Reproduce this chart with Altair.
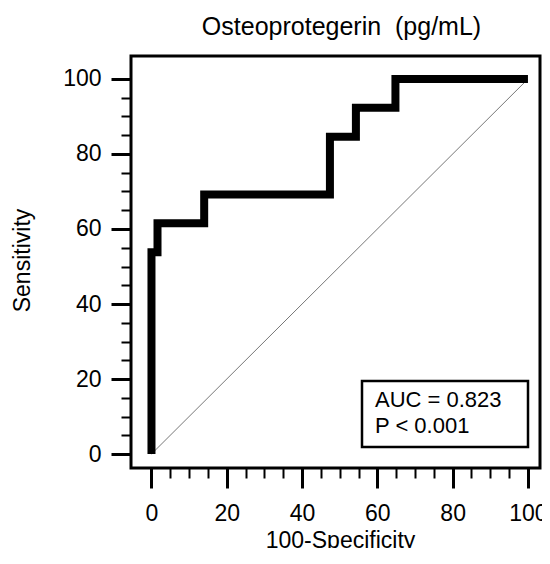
import altair as alt
import pandas as pd

# ---- data -------------------------------------------------------------
title_text = "Osteoprotegerin\u00a0 (pg/mL)"
x_title = "100-Specificity"
y_title = "Sensitivity"

# ROC step path vertices (100-specificity, sensitivity)
roc_fpr = [0, 0, 1.6, 1.6, 14.0, 14.0, 47.4, 47.4, 54.3, 54.3, 64.8, 64.8, 100]
roc_tpr = [0, 53.8, 53.8, 61.5, 61.5, 69.2, 69.2, 84.6, 84.6, 92.3, 92.3, 100, 100]

# reference (chance) diagonal
ref_x = [0, 100]
ref_y = [0, 100]

annotation = ["AUC = 0.823\nP < 0.001"]
tick_values = list(range(0, 101, 5))

# ---- chart ------------------------------------------------------------
FONT = "Liberation Sans"
major = "datum.value % 20 === 0"

roc = pd.DataFrame({"fpr": roc_fpr, "tpr": roc_tpr, "order": list(range(len(roc_fpr)))})
ref = pd.DataFrame({"fpr": ref_x, "tpr": ref_y, "order": [0, 1]})
ann = pd.DataFrame({"t": annotation})


def make_axis(title, **kw):
    return alt.Axis(
        values=tick_values, title=title, domain=False, grid=False,
        tickColor="black",
        tickSize={"condition": {"test": major, "value": 20}, "value": 10},
        tickWidth={"condition": {"test": major, "value": 3}, "value": 2},
        labelExpr=f"{major} ? datum.label : ''",
        labelFont=FONT, labelFontSize=23, labelColor="black",
        labelOverlap=False, labelFlush=False,
        titleFont=FONT, titleFontSize=23, titleFontWeight="normal", titleColor="black",
        **kw,
    )


xs = alt.Scale(domain=[-5.44, 103.2], nice=False, zero=False)
ys = alt.Scale(domain=[-3.73, 106.13], nice=False, zero=False)

x_axis = make_axis(x_title, labelPadding=14, titleX=209, titleY=79,
                   titleBaseline="alphabetic", titleAlign="center")
y_axis = make_axis(y_title, labelPadding=10, titleX=-109, titleY=204, titleAngle=-90,
                   titleBaseline="middle", titleAlign="center")

ref_line = alt.Chart(ref).mark_line(color="#777777", strokeWidth=1).encode(
    x=alt.X("fpr:Q", scale=xs, axis=x_axis),
    y=alt.Y("tpr:Q", scale=ys, axis=y_axis),
    order="order:Q",
)

roc_line = alt.Chart(roc).mark_line(
    color="black", strokeWidth=8, strokeCap="butt", strokeJoin="miter"
).encode(
    x=alt.X("fpr:Q", scale=xs, axis=x_axis),
    y=alt.Y("tpr:Q", scale=ys, axis=y_axis),
    order="order:Q",
)

box = alt.Chart(ann).mark_rect(fill="white", stroke="black", strokeWidth=2.5).encode(
    x=alt.value(231), x2=alt.value(397), y=alt.value(325), y2=alt.value(391)
)

txt = alt.Chart(ann).mark_text(
    align="left", baseline="alphabetic", lineBreak="\n", lineHeight=26,
    font=FONT, fontSize=22, color="black"
).encode(x=alt.value(244), y=alt.value(351), text="t:N")

chart = (
    alt.layer(ref_line, roc_line, box, txt)
    .properties(
        width=409, height=412,
        autosize=alt.AutoSizeParams(type="none"),
        padding={"left": 123, "top": 48, "right": 2, "bottom": 80},
        title=alt.Title(title_text, font=FONT, fontSize=25, fontWeight="normal",
                        color="black", anchor="middle", baseline="alphabetic",
                        offset=-4, dx=6),
        background="white",
    )
    .configure_view(stroke="black", strokeWidth=3)
)

chart.save("out.html", embed_options={"renderer": "svg", "actions": False})
